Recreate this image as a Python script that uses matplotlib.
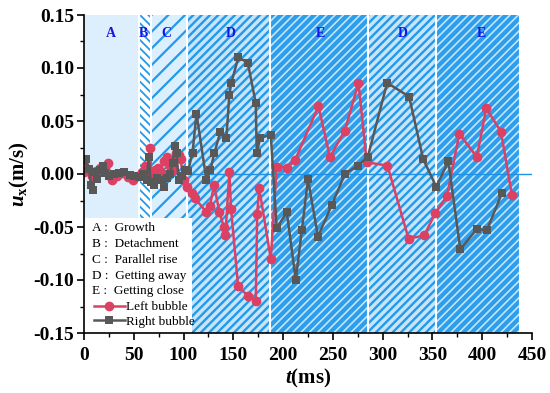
import matplotlib
matplotlib.use("Agg")
import matplotlib.pyplot as plt
from matplotlib.patches import Rectangle
from matplotlib.ticker import MultipleLocator, FormatStrFormatter

# ---------------- data ----------------
t_left = [0, 4, 8, 12, 16, 20, 24, 28, 33, 38, 44, 49, 54, 58, 61, 64, 66, 68, 71, 74,
          77, 80, 83, 86, 89, 92, 95, 97, 100, 103,
          108, 111.5, 123, 126.6, 130.6, 136, 140.5, 142, 146, 147.7, 154.8, 164.8,
          172.5, 174, 175.9, 187.6, 193.6, 203.6, 212, 235.5, 247, 262, 275.7, 284,
          304.8, 326, 341.7, 352.8, 364.5, 377, 394.6, 404, 418.8, 429.8]
u_left = [0.002, 0.005, -0.002, 0.003, 0.006, 0.003, 0.010, -0.006, -0.002, 0.001,
          -0.003, -0.006, -0.002, 0.002, 0.008, 0.002, 0.025, -0.004, 0.004, 0.006,
          0.002, 0.012, 0.016, 0.008, 0.004, 0.020, 0.018, 0.014, -0.006, -0.012,
          -0.018, -0.023, -0.036, -0.030, -0.010, -0.036, -0.050, -0.058, 0.002, -0.033,
          -0.106, -0.115, -0.120, -0.038, -0.013, -0.080, 0.007, 0.006, 0.013, 0.064,
          0.016, 0.041, 0.086, 0.011, 0.008, -0.061, -0.058, -0.037, -0.021, 0.038,
          0.016, 0.062, 0.040, -0.020]

t_right = [0, 2, 5, 7, 9, 11, 13, 16, 19, 21, 25, 30, 35, 40, 46, 50, 55, 59, 63, 65,
           67, 70, 73, 77, 80, 83, 86, 89, 91, 93, 95, 98, 101, 104.5,
           109, 113, 123, 127, 131, 137, 143, 146, 148, 155, 164.5, 172.5, 173.5, 177,
           187.6, 193.6, 203.7, 212.7, 218.8, 225, 235, 249, 262, 275, 285, 304.5,
           326.6, 340.7, 353.8, 366, 378, 394.6, 404.7, 419.8]
u_right = [0.012, 0.014, 0.005, -0.010, -0.015, 0.002, -0.005, 0.004, 0.008, 0.001,
           -0.002, 0.000, 0.001, 0.002, -0.001, -0.002, -0.003, 0.000, -0.006, 0.016,
           -0.008, -0.010, -0.004, -0.006, -0.012, -0.004, 0.000, 0.010, 0.026, 0.020,
           -0.006, -0.002, 0.004, 0.003,
           0.020, 0.057, -0.006, 0.004, 0.020, 0.040, 0.034, 0.075, 0.086, 0.110,
           0.105, 0.067, 0.020, 0.034, 0.037, -0.051, -0.036, -0.100, -0.053, -0.005,
           -0.059, -0.029, 0.000, 0.008, 0.016, 0.086, 0.073, 0.014, -0.012, 0.012,
           -0.071, -0.052, -0.053, -0.018]

# stage boundaries (ms) and names
stage_bounds = [0, 55, 67, 103, 187, 285, 354, 438]
stage_names = ["A", "B", "C", "D", "E", "D", "E"]
stage_label_t = [27, 60, 83, 147, 237, 320, 399]
legend_texts = ["A :  Growth", "B :  Detachment", "C :  Parallel rise",
                "D :  Getting away", "E :  Getting close"]

# ---------------- style ----------------
plt.rcParams['font.family'] = ['Liberation Serif', 'DejaVu Serif']
plt.rcParams['axes.unicode_minus'] = False
plt.rcParams['mathtext.fontset'] = 'custom'
plt.rcParams['mathtext.rm'] = 'Liberation Serif:bold'
plt.rcParams['mathtext.it'] = 'Liberation Serif:italic:bold'
plt.rcParams['mathtext.bf'] = 'Liberation Serif:bold'

fig = plt.figure(figsize=(5.5, 3.93), dpi=100)
ax = fig.add_axes([84/550, 1-333/393, 448/550, 318/393])

BLUE = '#2299ea'

styles = [
    dict(facecolor='#ddeefc', hatch=None, edge=None, hlw=1.0),        # A
    dict(facecolor='#ffffff', hatch='\\\\\\\\', edge=BLUE, hlw=1.3),  # B
    dict(facecolor='#dcefff', hatch='//', edge=BLUE, hlw=1.6),        # C
    dict(facecolor='#c6e5fb', hatch='////', edge=BLUE, hlw=1.7),      # D
    dict(facecolor='#2d9eec', hatch='////', edge='#c4e6fc', hlw=1.2), # E
    dict(facecolor='#c6e5fb', hatch='////', edge=BLUE, hlw=1.7),      # D
    dict(facecolor='#2d9eec', hatch='////', edge='#c4e6fc', hlw=1.2), # E
]

for i, st in enumerate(styles):
    with plt.rc_context({'hatch.linewidth': st['hlw']}):
        if st['hatch'] is None:
            ax.axvspan(stage_bounds[i], stage_bounds[i+1], facecolor=st['facecolor'],
                       edgecolor='none', linewidth=0, zorder=0)
        else:
            ax.axvspan(stage_bounds[i], stage_bounds[i+1], facecolor=st['facecolor'],
                       edgecolor=st['edge'], hatch=st['hatch'], linewidth=0, zorder=0)
for b in stage_bounds[1:]:
    ax.axvline(b, color='white', lw=1.5, zorder=1)

for name, tl in zip(stage_names, stage_label_t):
    ax.text(tl, 0.133, name, color='#1414e6', fontsize=10, fontweight='bold',
            ha='center', va='center', zorder=2)

ax.axhline(0, color='#1e90e6', lw=1.0, zorder=2)

# legend background box
ax.add_patch(Rectangle((0, 0), 0.241, 0.362, transform=ax.transAxes,
                       facecolor='white', edgecolor='none', zorder=3))

l1, = ax.plot(t_left, u_left, '-o', color='#dc4062', lw=1.8, ms=7,
              markeredgewidth=0, zorder=5, label='Left bubble')
l2, = ax.plot(t_right, u_right, '-s', color='#585858', lw=1.8, ms=6,
              markeredgewidth=0, zorder=6, label='Right bubble')

ys = [0.330, 0.280, 0.231, 0.180, 0.132]
for txt, yy in zip(legend_texts, ys):
    ax.text(0.018, yy, txt, transform=ax.transAxes, fontsize=9.5,
            va='center', ha='left', zorder=7)

leg = ax.legend(handles=[l1, l2], loc='lower left', bbox_to_anchor=(0.005, -0.008),
                frameon=False, fontsize=9.5, handlelength=2.3, handletextpad=0.1,
                labelspacing=0.15, borderaxespad=0.2, numpoints=1)
leg.set_zorder(8)

ax.set_xlim(0, 450)
ax.set_ylim(-0.15, 0.15)
ax.xaxis.set_major_locator(MultipleLocator(50))
ax.xaxis.set_minor_locator(MultipleLocator(25))
ax.yaxis.set_major_locator(MultipleLocator(0.05))
ax.yaxis.set_minor_locator(MultipleLocator(0.025))
ax.yaxis.set_major_formatter(FormatStrFormatter('%.2f'))

for s in ['top', 'right']:
    ax.spines[s].set_visible(False)
for s in ['left', 'bottom']:
    ax.spines[s].set_linewidth(1.2)
    ax.spines[s].set_zorder(10)

ax.tick_params(which='major', direction='out', length=5, width=1.2, labelsize=14)
ax.tick_params(axis='x', which='major', pad=5)
ax.tick_params(axis='y', which='major', pad=2)
ax.tick_params(which='minor', direction='out', length=3, width=1.0)
for lab in ax.get_xticklabels() + ax.get_yticklabels():
    lab.set_fontweight('bold')

ax.set_xlabel(r'$\it{t}$(ms)', fontsize=15, fontweight='bold', labelpad=2)
ax.set_ylabel(r'$\it{u}_{\rm x}$(m/s)', fontsize=15, fontweight='bold', labelpad=2)

fig.savefig('out.png', dpi=100)
